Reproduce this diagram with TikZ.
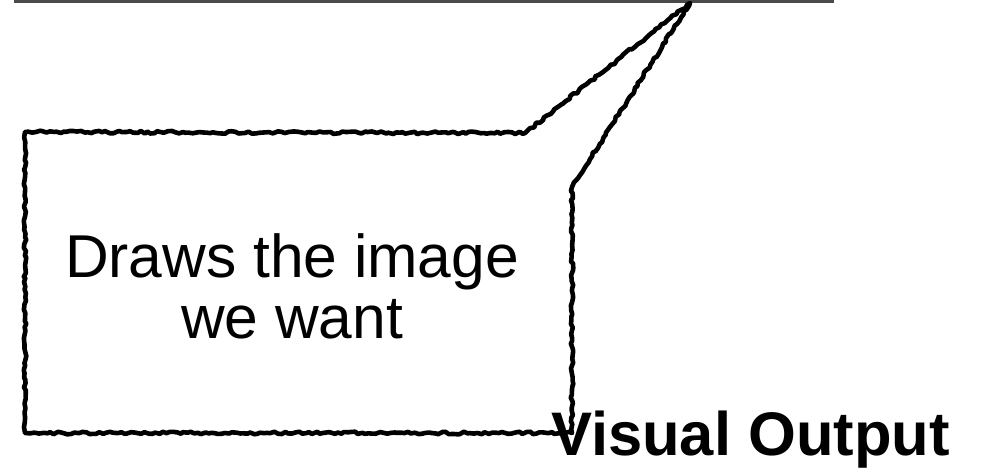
\documentclass[tikz,border=0pt]{standalone}
\usepackage{fontspec}
\setmainfont{Liberation Sans}
\usetikzlibrary{decorations.pathmorphing}
\definecolor{rulegray}{HTML}{4A4A4A}
\tikzset{
  sketchy/.style={draw=black, line width=4.6pt, line join=round, line cap=round,
    decorate, decoration={random steps, segment length=3.5pt, amplitude=1.3pt}},
  bodytext/.style={inner sep=0pt, font=\fontsize{60.5}{61}\selectfont},
  titletext/.style={inner sep=0pt, anchor=base west, font=\fontsize{61.5}{62}\selectfont\bfseries}
}
\begin{document}
\begin{tikzpicture}[x=1pt,y=1pt]
\pgfmathsetseed{7}
\useasboundingbox (0,0) rectangle (982,469);
% top gray rule
\fill[rulegray] (14,465.5) rectangle (834,469);
% callout
\coordinate (tl) at (25,337);
\coordinate (tj) at (525,336);
\coordinate (tip) at (690,466);
\coordinate (rj) at (572,282);
\coordinate (br) at (572,36);
\coordinate (bl) at (25,36);
\draw[sketchy] (tl) -- (tj) -- (tip) -- (rj) -- (br) -- (bl) -- cycle;
% texts
\node[bodytext, anchor=base] (l1) at (292,192) {Draws the image};
\node[bodytext, anchor=base] (l2) at (292,131) {we want};
\node[titletext] (vo) at (551,14) {Visual Output};
\end{tikzpicture}
\end{document}
